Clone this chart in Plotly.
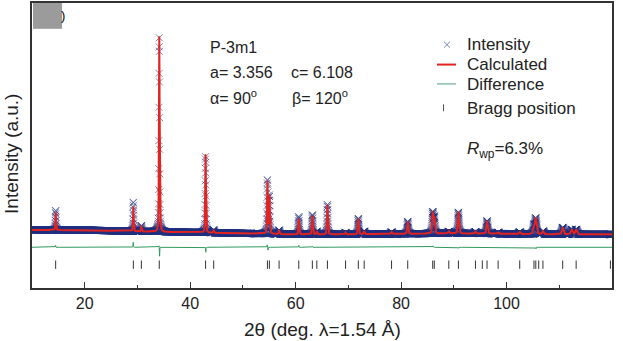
import numpy as np
import plotly.graph_objects as go

# ---------------- data ----------------
# Rietveld profile described by its reflections: position (2theta, deg), height (a.u.), FWHM (deg)
peak_pos = [14.49, 29.22, 30.74, 34.14, 42.92, 44.46, 54.65, 55.02, 56.86, 60.59,
            63.17, 64.02, 66.03, 69.47, 71.89, 73.00, 78.19, 81.26, 86.00, 86.30,
            89.05, 90.87, 94.10, 96.30, 98.40, 102.50, 105.20, 105.55, 106.90, 110.65,
            112.35, 113.20]
peak_height = [18, 25, 6, 197, 79, 3, 53, 38, 4, 16,
               19, 3, 30, 2, 16, 3, 2, 12.5, 21, 16,
               2, 22, 2, 13, 1.5, 2, 8, 16, 3, 7,
               5, 5]
peak_fwhm = [0.14, 0.15, 0.15, 0.15, 0.16, 0.16, 0.18, 0.18, 0.18, 0.19,
             0.2, 0.2, 0.2, 0.21, 0.21, 0.22, 0.23, 0.24, 0.26, 0.26,
             0.27, 0.27, 0.28, 0.29, 0.3, 0.31, 0.33, 0.33, 0.34, 0.36,
             0.37, 0.37]

# background control values
bg_two_theta = [10, 20, 30, 40, 50, 60, 70, 80, 90, 100, 110, 120]
bg_level = [0.5, 0.3, -1.0, -2.0, -3.0, -4.0, -4.0, -3.5, -3.0, -3.5, -4.0, -4.0]

# observed - calculated misfit features (position, amplitude)
diff_pos = [14.47, 29.20, 34.08, 34.20, 42.96, 54.60, 54.75, 60.60, 63.2, 86.1, 90.9, 105.6]
diff_amp = [2.0, 5.0, 1.5, -9.0, -5.0, 2.5, -3.0, 2.0, 1.0, 1.5, -1.0, -1.5]
diff_offset = -17.0

# Bragg reflection positions
bragg_pos = [14.49, 29.22, 30.74, 34.14, 42.92, 44.46, 54.65, 55.02, 56.86, 60.59,
             63.17, 64.02, 66.03, 69.47, 71.89, 73.00, 78.19, 81.26, 86.00, 86.30,
             89.05, 90.87, 94.10, 95.40, 96.30, 98.40, 102.50, 105.20, 105.55, 106.10,
             106.90, 110.65, 113.20, 119.70]
bragg_level = -34.5

x_ticks = [20, 40, 60, 80, 100, 120]
x_minor = [30, 50, 70, 90, 110]

# ---------------- build profile ----------------
tt = np.round(np.arange(10.0, 120.0001, 0.02), 3)
bg = np.interp(tt, bg_two_theta, bg_level)
calc = bg.copy()
eta = 0.4
for p, h, w in zip(peak_pos, peak_height, peak_fwhm):
    u = (tt - p) / w
    calc += h * (eta / (1 + 4 * u ** 2) + (1 - eta) * np.exp(-4 * np.log(2) * u ** 2))
spikes = np.zeros_like(tt)
for p, a in zip(diff_pos, diff_amp):
    spikes += a * np.exp(-4 * np.log(2) * ((tt - p) / 0.08) ** 2)
obs = calc + spikes
diff = diff_offset + spikes

# ---------------- figure ----------------
W, H = 623, 341
L, R, T, B = 32, 11, 1, 53
pw, ph = W - L - R, H - T - B


def px(x):
    return (x - L) / pw


def py(y):
    return (H - B - y) / ph


FONT = "Liberation Sans, Arial, sans-serif"
RED = "#e2231f"
NAVY = "#1f2f80"
GREEN = "#2f9a5c"

fig = go.Figure()
fig.add_trace(go.Scatter(x=tt, y=obs, mode="markers", name="Intensity",
                         marker=dict(symbol="x-thin", size=7, color=NAVY, opacity=0.55,
                                     line=dict(width=1, color=NAVY)),
                         showlegend=False))
fig.add_trace(go.Scatter(x=tt, y=calc, mode="lines", name="Calculated",
                         line=dict(color=RED, width=2), showlegend=False))
fig.add_trace(go.Scatter(x=tt, y=diff, mode="lines", name="Difference",
                         line=dict(color=GREEN, width=1), showlegend=False))
fig.add_trace(go.Scatter(x=bragg_pos, y=[bragg_level] * len(bragg_pos), mode="markers",
                         name="Bragg position",
                         marker=dict(symbol="line-ns", size=6, color="#333",
                                     line=dict(width=1, color="#333")),
                         showlegend=False))

axis_common = dict(showline=True, linecolor="#333", linewidth=1.5, mirror=True,
                   showgrid=False, zeroline=False)
fig.update_xaxes(range=[10, 120], tickvals=x_ticks, ticks="inside", ticklen=6,
                 tickwidth=1.2, tickcolor="#333",
                 tickfont=dict(family=FONT, size=16, color="#222"),
                 minor=dict(tickvals=x_minor, ticks="inside", ticklen=3,
                            tickwidth=1.2, tickcolor="#333"),
                 **axis_common)
fig.update_yaxes(range=[-58, 229], showticklabels=False, ticks="", **axis_common)

ann = []


def text(x, y, s, size=16, anchor="left", angle=0, color="#222"):
    ann.append(dict(x=px(x), y=py(y), xref="paper", yref="paper", text=s,
                    showarrow=False, xanchor=anchor, yanchor="middle", textangle=angle,
                    font=dict(family=FONT, size=size, color=color)))


# parameter block
text(208, 46, "P-3m1")
text(208, 71, "a= 3.356")
text(289, 71, "c= 6.108")
text(208, 96, "α= 90<sup>o</sup>")
text(290, 96, "β= 120<sup>o</sup>")
# legend
text(465, 43, "Intensity", 17)
text(465, 63, "Calculated", 17)
text(465, 83, "Difference", 17)
text(465, 107, "Bragg position", 17)
text(465, 149, "<i>R</i><sub>wp</sub>=6.3%", 17)
# axis titles
text(322, 330, "2θ (deg. λ=1.54 Å)", 19, anchor="center")
text(12, 153, "Intensity (a.u.)", 19, anchor="center", angle=-90)
# panel label remnant
text(63, 14, ")", 13, anchor="center", color="#000")

shapes = [
    dict(type="rect", xref="paper", yref="paper", x0=px(33), x1=px(62), y0=py(1), y1=py(27),
         fillcolor="#9b9b9b", line=dict(width=0), layer="above"),
    dict(type="line", xref="paper", yref="paper", x0=px(444), x1=px(450), y0=py(40), y1=py(46),
         line=dict(color="#7483b3", width=1)),
    dict(type="line", xref="paper", yref="paper", x0=px(444), x1=px(450), y0=py(46), y1=py(40),
         line=dict(color="#7483b3", width=1)),
    dict(type="line", xref="paper", yref="paper", x0=px(437), x1=px(456), y0=py(63), y1=py(63),
         line=dict(color=RED, width=2)),
    dict(type="line", xref="paper", yref="paper", x0=px(437), x1=px(456), y0=py(82.5), y1=py(82.5),
         line=dict(color="#6aaa98", width=1.2)),
    dict(type="line", xref="paper", yref="paper", x0=px(443.5), x1=px(443.5), y0=py(103), y1=py(110),
         line=dict(color="#555", width=1)),
]

fig.update_layout(width=W, height=H, margin=dict(l=L, r=R, t=T, b=B),
                  plot_bgcolor="white", paper_bgcolor="white",
                  annotations=ann, shapes=shapes, showlegend=False)

fig.write_html("out.html")
